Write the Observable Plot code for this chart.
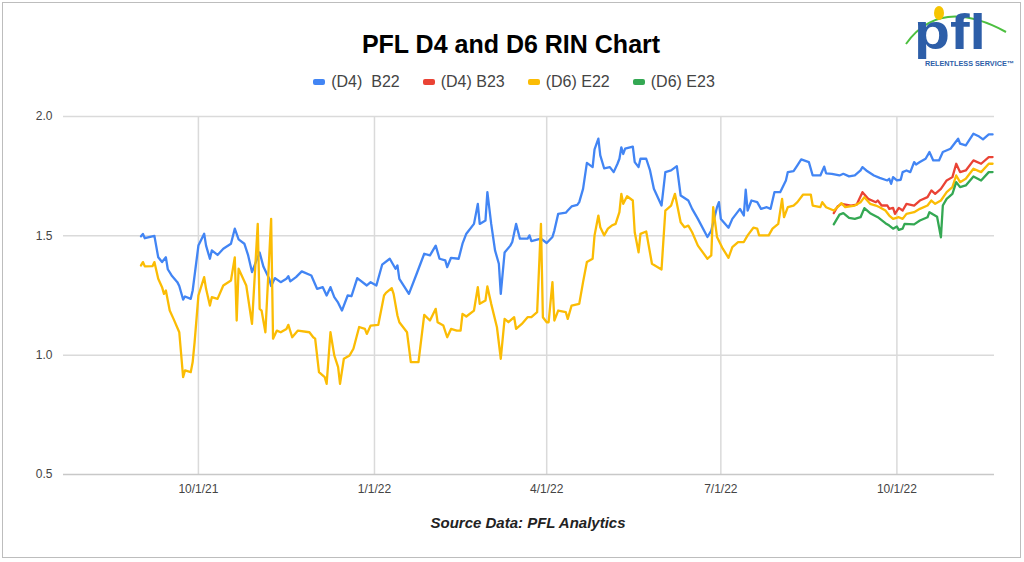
<!DOCTYPE html>
<html>
<head>
<meta charset="utf-8">
<script src="https://cdn.jsdelivr.net/npm/d3@7"></script>
<script src="https://cdn.jsdelivr.net/npm/@observablehq/plot@0.6"></script>
<style>
  html, body { margin: 0; padding: 0; background: #fff; }
  #wrap { position: relative; width: 1024px; height: 562px; overflow: hidden; font-family: "Liberation Sans", Arial, sans-serif; }
  #frame { position: absolute; left: 2px; top: 2px; width: 1017px; height: 554px; border: 1px solid #bdbdbd; box-sizing: content-box; }
  #title { position: absolute; left: 0; top: 30px; width: 1022px; text-align: center; font-weight: bold; font-size: 25px; color: #000; }
  #legend { position: absolute; left: 0; top: 73px; width: 1028px; display: flex; justify-content: center; gap: 23px; font-size: 16px; color: #444; }
  #legend .item { display: flex; align-items: center; white-space: pre; }
  #legend .sw { width: 12px; height: 6px; border-radius: 2px; margin-right: 6px; }
  #caption { position: absolute; left: 0; top: 514px; width: 1056px; text-align: center; font-weight: bold; font-style: italic; font-size: 15px; color: #222; }
  #chart { position: absolute; left: 0; top: 0; }
  #logo { position: absolute; left: 900px; top: 2px; }
</style>
</head>
<body>
<div id="wrap">
  <div id="frame"></div>
  <div id="chart"></div>
  <div id="title"></div>
  <div id="legend"></div>
  <div id="caption"></div>
  <svg id="logo" width="122" height="68" viewBox="0 0 122 68">
    <path d="M6,42 Q40,-6 106,30" fill="none" stroke="#4cbf3f" stroke-width="2"/>
    <ellipse cx="39" cy="11" rx="5" ry="7" fill="#f6c400"/>
    <text x="14" y="47" font-family="Liberation Sans, Arial, sans-serif" font-weight="bold" font-size="50" fill="#2d5ea8" textLength="72" lengthAdjust="spacingAndGlyphs">pfl</text>
    <text x="25" y="64" font-family="Liberation Sans, Arial, sans-serif" font-weight="bold" font-size="6.8" fill="#2d5ea8" textLength="89" lengthAdjust="spacingAndGlyphs">RELENTLESS SERVICE™</text>
  </svg>
</div>
<script>
const titleText = "PFL D4 and D6 RIN Chart";
const captionText = "Source Data: PFL Analytics";
const seriesNames = ["(D4)  B22", "(D4) B23", "(D6) E22", "(D6) E23"];
const seriesColors = ["#4285F4", "#EA4335", "#FBBC04", "#34A853"];
const yTicks = [0.5, 1.0, 1.5, 2.0];
const xTickDates = ["2021-10-01", "2022-01-01", "2022-04-01", "2022-07-01", "2022-10-01"];

const b22 = [
["2021-09-01",1.498],["2021-09-02",1.508],["2021-09-03",1.49],["2021-09-08",1.50],["2021-09-10",1.41],
["2021-09-12",1.39],["2021-09-14",1.41],["2021-09-15",1.36],["2021-09-17",1.334],["2021-09-20",1.306],
["2021-09-21",1.29],["2021-09-23",1.233],["2021-09-24",1.246],["2021-09-27",1.236],["2021-09-28",1.271],
["2021-10-01",1.459],["2021-10-04",1.509],["2021-10-05",1.459],["2021-10-07",1.404],["2021-10-08",1.439],
["2021-10-11",1.42],["2021-10-14",1.446],["2021-10-18",1.467],["2021-10-20",1.53],["2021-10-22",1.485],
["2021-10-25",1.467],["2021-10-27",1.418],["2021-10-29",1.348],["2021-10-31",1.39],["2021-11-02",1.43],
["2021-11-04",1.37],["2021-11-07",1.32],["2021-11-08",1.29],["2021-11-10",1.323],["2021-11-13",1.306],
["2021-11-16",1.32],["2021-11-17",1.331],["2021-11-18",1.309],["2021-11-21",1.327],["2021-11-24",1.351],
["2021-11-29",1.334],["2021-12-02",1.278],["2021-12-05",1.285],["2021-12-07",1.25],["2021-12-09",1.285],
["2021-12-11",1.243],["2021-12-13",1.22],["2021-12-15",1.187],["2021-12-18",1.25],["2021-12-20",1.247],
["2021-12-23",1.323],["2021-12-28",1.292],["2021-12-30",1.306],["2022-01-02",1.292],["2022-01-05",1.379],
["2022-01-09",1.404],["2022-01-12",1.362],["2022-01-13",1.376],["2022-01-14",1.32],["2022-01-19",1.257],
["2022-01-23",1.34],["2022-01-27",1.425],["2022-01-30",1.418],["2022-02-02",1.459],["2022-02-04",1.404],
["2022-02-07",1.397],["2022-02-08",1.369],["2022-02-10",1.408],["2022-02-14",1.404],["2022-02-16",1.467],
["2022-02-18",1.509],["2022-02-22",1.55],["2022-02-24",1.634],["2022-02-25",1.55],["2022-02-28",1.564],
["2022-03-01",1.683],["2022-03-03",1.55],["2022-03-05",1.439],["2022-03-07",1.383],["2022-03-08",1.257],
["2022-03-10",1.43],["2022-03-13",1.459],["2022-03-14",1.474],["2022-03-16",1.55],["2022-03-18",1.488],
["2022-03-22",1.488],["2022-03-23",1.502],["2022-03-24",1.478],["2022-03-29",1.488],["2022-04-01",1.47],
["2022-04-04",1.495],["2022-04-05",1.522],["2022-04-07",1.592],["2022-04-11",1.597],["2022-04-12",1.606],
["2022-04-14",1.623],["2022-04-17",1.63],["2022-04-18",1.641],["2022-04-20",1.697],["2022-04-22",1.806],
["2022-04-25",1.788],["2022-04-26",1.862],["2022-04-28",1.907],["2022-04-29",1.837],["2022-05-01",1.783],
["2022-05-04",1.788],["2022-05-06",1.767],["2022-05-08",1.802],["2022-05-09",1.823],["2022-05-10",1.871],
["2022-05-11",1.843],["2022-05-12",1.865],["2022-05-16",1.874],["2022-05-17",1.809],["2022-05-19",1.788],
["2022-05-20",1.823],["2022-05-23",1.823],["2022-05-25",1.774],["2022-05-27",1.697],["2022-05-31",1.627],
["2022-06-02",1.767],["2022-06-05",1.774],["2022-06-08",1.792],["2022-06-10",1.669],["2022-06-14",1.648],
["2022-06-16",1.613],["2022-06-19",1.571],["2022-06-24",1.495],["2022-06-26",1.522],["2022-06-29",1.62],
["2022-06-30",1.641],["2022-07-01",1.571],["2022-07-05",1.534],["2022-07-07",1.571],["2022-07-11",1.613],
["2022-07-13",1.585],["2022-07-14",1.693],["2022-07-15",1.606],["2022-07-17",1.648],["2022-07-20",1.641],
["2022-07-22",1.613],["2022-07-25",1.62],["2022-07-27",1.613],["2022-07-29",1.683],["2022-08-01",1.683],
["2022-08-04",1.732],["2022-08-05",1.767],["2022-08-08",1.771],["2022-08-10",1.795],["2022-08-12",1.82],
["2022-08-16",1.809],["2022-08-18",1.753],["2022-08-22",1.753],["2022-08-24",1.79],["2022-08-25",1.762],
["2022-08-28",1.76],["2022-09-01",1.753],["2022-09-03",1.76],["2022-09-06",1.749],["2022-09-09",1.753],
["2022-09-12",1.774],["2022-09-13",1.788],["2022-09-15",1.774],["2022-09-19",1.753],["2022-09-22",1.743],
["2022-09-26",1.732],["2022-09-27",1.739],["2022-09-28",1.718],["2022-09-29",1.746],["2022-10-01",1.732],
["2022-10-03",1.735],["2022-10-04",1.767],["2022-10-06",1.774],["2022-10-08",1.767],["2022-10-10",1.809],
["2022-10-11",1.799],["2022-10-13",1.809],["2022-10-16",1.823],["2022-10-18",1.851],["2022-10-20",1.816],
["2022-10-23",1.816],["2022-10-25",1.851],["2022-10-29",1.865],["2022-10-31",1.886],["2022-11-02",1.907],
["2022-11-03",1.886],["2022-11-06",1.879],["2022-11-10",1.928],["2022-11-13",1.916],["2022-11-15",1.904],
["2022-11-18",1.925],["2022-11-20",1.925]
];

const b23 = [
["2022-08-29",1.595],["2022-08-31",1.623],["2022-09-02",1.634],["2022-09-07",1.627],["2022-09-10",1.631],
["2022-09-13",1.683],["2022-09-16",1.655],["2022-09-20",1.641],["2022-09-21",1.648],["2022-09-23",1.627],
["2022-09-26",1.627],["2022-09-27",1.613],["2022-09-29",1.617],["2022-09-30",1.592],["2022-10-02",1.617],
["2022-10-04",1.606],["2022-10-06",1.634],["2022-10-10",1.627],["2022-10-13",1.648],["2022-10-17",1.662],
["2022-10-19",1.69],["2022-10-21",1.676],["2022-10-24",1.697],["2022-10-27",1.732],["2022-10-30",1.746],
["2022-11-01",1.802],["2022-11-03",1.767],["2022-11-06",1.774],["2022-11-10",1.816],["2022-11-14",1.802],
["2022-11-18",1.83],["2022-11-20",1.83]
];

const e22 = [
["2021-09-01",1.376],["2021-09-02",1.39],["2021-09-03",1.372],["2021-09-07",1.373],["2021-09-08",1.39],
["2021-09-10",1.32],["2021-09-12",1.285],["2021-09-13",1.257],["2021-09-14",1.271],["2021-09-16",1.187],
["2021-09-18",1.152],["2021-09-21",1.096],["2021-09-23",0.908],["2021-09-24",0.936],["2021-09-27",0.929],
["2021-09-28",0.971],["2021-09-29",1.054],["2021-10-01",1.25],["2021-10-04",1.327],["2021-10-05",1.278],
["2021-10-07",1.208],["2021-10-08",1.243],["2021-10-11",1.236],["2021-10-14",1.292],["2021-10-18",1.313],
["2021-10-20",1.41],["2021-10-21",1.145],["2021-10-22",1.362],["2021-10-26",1.292],["2021-10-29",1.131],
["2021-11-01",1.55],["2021-11-02",1.194],["2021-11-03",1.187],["2021-11-05",1.096],["2021-11-08",1.571],
["2021-11-09",1.069],["2021-11-11",1.103],["2021-11-13",1.096],["2021-11-16",1.11],["2021-11-17",1.127],
["2021-11-19",1.075],["2021-11-22",1.103],["2021-11-28",1.096],["2021-11-30",1.075],["2021-12-01",1.069],
["2021-12-03",0.929],["2021-12-06",0.908],["2021-12-07",0.88],["2021-12-09",1.096],["2021-12-11",0.999],
["2021-12-13",0.95],["2021-12-14",0.88],["2021-12-16",0.985],["2021-12-19",0.999],["2021-12-21",1.027],
["2021-12-24",1.118],["2021-12-27",1.11],["2021-12-28",1.089],["2021-12-30",1.124],["2022-01-03",1.127],
["2022-01-06",1.25],["2022-01-07",1.261],["2022-01-10",1.281],["2022-01-11",1.257],["2022-01-13",1.166],
["2022-01-14",1.138],["2022-01-18",1.096],["2022-01-20",0.971],["2022-01-24",0.971],["2022-01-27",1.169],
["2022-01-30",1.145],["2022-02-02",1.194],["2022-02-03",1.138],["2022-02-06",1.124],["2022-02-08",1.075],
["2022-02-10",1.11],["2022-02-13",1.103],["2022-02-15",1.103],["2022-02-16",1.173],["2022-02-18",1.162],
["2022-02-22",1.187],["2022-02-24",1.285],["2022-02-25",1.215],["2022-02-28",1.229],["2022-03-01",1.288],
["2022-03-03",1.215],["2022-03-06",1.117],["2022-03-08",0.985],["2022-03-10",1.152],["2022-03-12",1.138],
["2022-03-15",1.159],["2022-03-16",1.11],["2022-03-19",1.131],["2022-03-22",1.159],["2022-03-24",1.159],
["2022-03-27",1.18],["2022-03-29",1.55],["2022-03-30",1.159],["2022-04-01",1.138],["2022-04-02",1.138],
["2022-04-04",1.306],["2022-04-05",1.145],["2022-04-07",1.187],["2022-04-11",1.18],["2022-04-12",1.152],
["2022-04-14",1.208],["2022-04-18",1.215],["2022-04-20",1.306],["2022-04-22",1.39],["2022-04-25",1.404],
["2022-04-26",1.502],["2022-04-28",1.585],["2022-04-29",1.536],["2022-05-01",1.502],["2022-05-03",1.53],
["2022-05-05",1.543],["2022-05-07",1.55],["2022-05-09",1.599],["2022-05-10",1.676],["2022-05-11",1.634],
["2022-05-13",1.666],["2022-05-16",1.648],["2022-05-17",1.515],["2022-05-19",1.431],["2022-05-20",1.508],
["2022-05-23",1.518],["2022-05-26",1.383],["2022-05-31",1.359],["2022-06-02",1.606],["2022-06-05",1.627],
["2022-06-07",1.676],["2022-06-10",1.557],["2022-06-12",1.536],["2022-06-14",1.543],["2022-06-16",1.515],
["2022-06-19",1.459],["2022-06-24",1.404],["2022-06-26",1.418],["2022-06-27",1.62],["2022-06-29",1.495],
["2022-07-02",1.446],["2022-07-05",1.408],["2022-07-07",1.453],["2022-07-10",1.474],["2022-07-13",1.474],
["2022-07-15",1.502],["2022-07-18",1.534],["2022-07-20",1.53],["2022-07-21",1.502],["2022-07-26",1.502],
["2022-07-28",1.53],["2022-07-31",1.55],["2022-08-02",1.655],["2022-08-03",1.578],["2022-08-05",1.62],
["2022-08-08",1.627],["2022-08-10",1.641],["2022-08-13",1.673],["2022-08-17",1.673],["2022-08-18",1.627],
["2022-08-22",1.62],["2022-08-23",1.641],["2022-08-25",1.62],["2022-08-29",1.606],["2022-08-31",1.62],
["2022-09-02",1.637],["2022-09-04",1.62],["2022-09-09",1.627],["2022-09-12",1.641],["2022-09-14",1.662],
["2022-09-17",1.634],["2022-09-20",1.627],["2022-09-22",1.62],["2022-09-25",1.606],["2022-09-27",1.585],
["2022-09-29",1.571],["2022-10-02",1.578],["2022-10-04",1.571],["2022-10-06",1.592],["2022-10-10",1.599],
["2022-10-13",1.613],["2022-10-17",1.627],["2022-10-19",1.648],["2022-10-21",1.634],["2022-10-24",1.648],
["2022-10-27",1.683],["2022-10-30",1.704],["2022-11-01",1.753],["2022-11-03",1.725],["2022-11-06",1.739],
["2022-11-10",1.781],["2022-11-14",1.767],["2022-11-18",1.802],["2022-11-20",1.802]
];

const e23 = [
["2022-08-29",1.548],["2022-09-01",1.589],["2022-09-03",1.595],["2022-09-06",1.575],["2022-09-09",1.571],
["2022-09-12",1.578],["2022-09-14",1.616],["2022-09-17",1.595],["2022-09-21",1.578],["2022-09-25",1.553],
["2022-09-27",1.543],["2022-09-29",1.53],["2022-10-01",1.539],["2022-10-02",1.525],["2022-10-04",1.53],
["2022-10-05",1.55],["2022-10-10",1.548],["2022-10-13",1.564],["2022-10-17",1.578],["2022-10-18",1.599],
["2022-10-20",1.589],["2022-10-22",1.58],["2022-10-24",1.494],["2022-10-25",1.627],["2022-10-27",1.655],
["2022-10-30",1.676],["2022-11-01",1.725],["2022-11-03",1.704],["2022-11-06",1.711],["2022-11-10",1.749],
["2022-11-14",1.732],["2022-11-18",1.767],["2022-11-20",1.767]
];

const seriesData = [b22, b23, e22, e23];

document.getElementById("title").textContent = titleText;
document.getElementById("caption").textContent = captionText;
const legend = document.getElementById("legend");
seriesNames.forEach((n, i) => {
  const it = document.createElement("div");
  it.className = "item";
  const sw = document.createElement("div");
  sw.className = "sw";
  sw.style.background = seriesColors[i];
  const tx = document.createElement("span");
  tx.textContent = n;
  it.appendChild(sw); it.appendChild(tx);
  legend.appendChild(it);
});

const parse = d3.utcParse("%Y-%m-%d");
const rows = [];
seriesData.forEach((arr, i) => arr.forEach(([d, v]) => rows.push({date: parse(d), value: v, series: seriesNames[i]})));
const ticks = xTickDates.map(parse);

const chart = Plot.plot({
  width: 1024,
  height: 562,
  marginLeft: 63,
  marginRight: 30,
  marginTop: 116,
  marginBottom: 88,
  style: {fontFamily: "'Liberation Sans', Arial, sans-serif", fontSize: "12px", color: "#444", background: "transparent", overflow: "visible"},
  x: {type: "utc", domain: [new Date(Date.UTC(2021, 6, 22, 12)), new Date(Date.UTC(2022, 10, 21))], ticks: ticks, tickFormat: d3.utcFormat("%-m/%-d/%y"), tickSize: 0, tickPadding: 10, label: null},
  y: {domain: [0.5, 2.0], ticks: yTicks, tickFormat: d3.format(".1f"), tickSize: 0, tickPadding: 11, label: null},
  marks: [
    Plot.gridX(ticks, {stroke: "#dadada", strokeOpacity: 1, strokeWidth: 1.5}),
    Plot.gridY(yTicks.filter(d => d > 0.5), {stroke: "#dadada", strokeOpacity: 1, strokeWidth: 1.5}),
    Plot.ruleY([0.5], {stroke: "#c8c8c8", strokeWidth: 1.5}),
    ...seriesNames.map((n, i) => Plot.line(rows.filter(r => r.series === n), {x: "date", y: "value", stroke: seriesColors[i], strokeWidth: 2.3, strokeLinejoin: "round"}))
  ]
});
document.getElementById("chart").appendChild(chart);
</script>
</body>
</html>
